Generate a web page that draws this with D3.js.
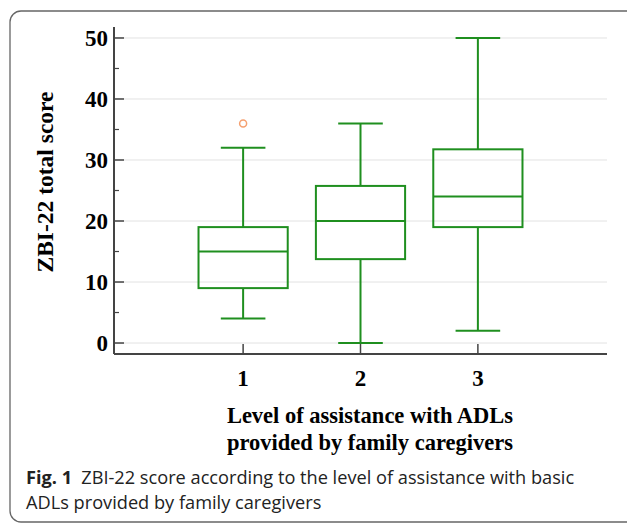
<!DOCTYPE html>
<html>
<head>
<meta charset="utf-8">
<script src="https://cdn.jsdelivr.net/npm/d3@7"></script>
<style>
  body { margin: 0; background: #fff; }
  svg { display: block; }
</style>
</head>
<body>
<div id="chart"></div>
<script>
// Data
const groups = [1, 2, 3];
const whiskerLow = [4, 0, 2];
const q1 = [9, 13.75, 19];
const medians = [15, 20, 24];
const q3 = [19, 25.75, 31.75];
const whiskerHigh = [32, 36, 50];
const outliers = [{ group: 1, value: 36 }];
const yTicks = [0, 10, 20, 30, 40, 50];
const yMinorTicks = [5, 15, 25, 35, 45];

const boxes = groups.map((g, i) => ({
  group: g, lo: whiskerLow[i], q1: q1[i], med: medians[i], q3: q3[i], hi: whiskerHigh[i]
}));

const width = 627;
const height = 525;
const green = "#1f8f1f";
const axisColor = "#444";
const serif = "'Liberation Serif', 'Times New Roman', serif";

const svg = d3.select("#chart")
  .append("svg")
    .attr("width", width)
    .attr("height", height);

// Frame round the figure
svg.append("rect")
  .attr("x", 10)
  .attr("y", 11)
  .attr("width", 640)
  .attr("height", 511)
  .attr("rx", 11)
  .attr("fill", "none")
  .attr("stroke", "#666")
  .attr("stroke-width", 1.3);

// Scales
const x = d3.scaleLinear().domain([-0.1, 4.1]).range([114, 607]);
const y = d3.scaleLinear().domain([-1.8, 51.8]).range([354, 27]);

// Gridlines
svg.append("g")
  .selectAll("line")
  .data(yTicks)
  .join("line")
    .attr("x1", x(-0.1))
    .attr("x2", x(4.1))
    .attr("y1", d => y(d))
    .attr("y2", d => y(d))
    .attr("stroke", "#e2e2e2")
    .attr("stroke-width", 1);

// Boxes
const box = svg.append("g")
  .selectAll("g")
  .data(boxes)
  .join("g")
    .attr("fill", "none")
    .attr("stroke", green)
    .attr("stroke-width", 2);

box.append("line")
  .attr("x1", d => x(d.group))
  .attr("x2", d => x(d.group))
  .attr("y1", d => y(d.hi))
  .attr("y2", d => y(d.q3));

box.append("line")
  .attr("x1", d => x(d.group))
  .attr("x2", d => x(d.group))
  .attr("y1", d => y(d.q1))
  .attr("y2", d => y(d.lo));

box.selectAll(".cap")
  .data(d => [d.hi, d.lo].map(v => ({ group: d.group, v })))
  .join("line")
    .attr("class", "cap")
    .attr("x1", d => x(d.group - 0.19))
    .attr("x2", d => x(d.group + 0.19))
    .attr("y1", d => y(d.v))
    .attr("y2", d => y(d.v));

box.append("rect")
  .attr("x", d => x(d.group - 0.38))
  .attr("width", d => x(d.group + 0.38) - x(d.group - 0.38))
  .attr("y", d => y(d.q3))
  .attr("height", d => y(d.q1) - y(d.q3));

box.append("line")
  .attr("x1", d => x(d.group - 0.38))
  .attr("x2", d => x(d.group + 0.38))
  .attr("y1", d => y(d.med))
  .attr("y2", d => y(d.med));

// Outliers
svg.append("g")
  .selectAll("circle")
  .data(outliers)
  .join("circle")
    .attr("cx", d => x(d.group))
    .attr("cy", d => y(d.value))
    .attr("r", 3.5)
    .attr("fill", "none")
    .attr("stroke", "#f5a070")
    .attr("stroke-width", 1.5);

// Y axis
const yAxis = svg.append("g")
  .attr("transform", `translate(${x(-0.1)},0)`);

yAxis.append("line")
  .attr("y1", y(51.8))
  .attr("y2", y(-1.8))
  .attr("stroke", axisColor)
  .attr("stroke-width", 2);

yAxis.selectAll(".major")
  .data(yTicks)
  .join("line")
    .attr("class", "major")
    .attr("x1", 0)
    .attr("x2", 10)
    .attr("y1", d => y(d))
    .attr("y2", d => y(d))
    .attr("stroke", axisColor)
    .attr("stroke-width", 1.5);

yAxis.selectAll(".minor")
  .data(yMinorTicks)
  .join("line")
    .attr("class", "minor")
    .attr("x1", 0)
    .attr("x2", 5)
    .attr("y1", d => y(d))
    .attr("y2", d => y(d))
    .attr("stroke", axisColor)
    .attr("stroke-width", 1.2);

yAxis.selectAll("text")
  .data(yTicks)
  .join("text")
    .attr("x", -6)
    .attr("y", d => y(d))
    .attr("dy", "0.35em")
    .attr("text-anchor", "end")
    .style("font-family", serif)
    .style("font-weight", "bold")
    .style("font-size", "23px")
    .text(d => d);

// X axis
const xAxis = svg.append("g")
  .attr("transform", `translate(0,${y(-1.8)})`);

xAxis.append("line")
  .attr("x1", x(-0.1))
  .attr("x2", x(4.1))
  .attr("stroke", axisColor)
  .attr("stroke-width", 2);

xAxis.selectAll(".tick")
  .data(groups)
  .join("line")
    .attr("class", "tick")
    .attr("x1", d => x(d))
    .attr("x2", d => x(d))
    .attr("y1", 0)
    .attr("y2", -10)
    .attr("stroke", axisColor)
    .attr("stroke-width", 1.5);

xAxis.selectAll("text")
  .data(groups)
  .join("text")
    .attr("x", d => x(d))
    .attr("y", 32)
    .attr("text-anchor", "middle")
    .style("font-family", serif)
    .style("font-weight", "bold")
    .style("font-size", "23px")
    .text(d => d);

// Axis titles
svg.append("text")
  .attr("transform", "translate(53,182) rotate(-90)")
  .attr("text-anchor", "middle")
  .style("font-family", serif)
  .style("font-weight", "bold")
  .style("font-size", "23.5px")
  .text("ZBI-22 total score");

const xTitle = svg.append("text")
  .attr("text-anchor", "middle")
  .style("font-family", serif)
  .style("font-weight", "bold")
  .style("font-size", "22.5px");

xTitle.append("tspan")
  .attr("x", 370)
  .attr("y", 423)
  .text("Level of assistance with ADLs");

xTitle.append("tspan")
  .attr("x", 370)
  .attr("y", 450)
  .text("provided by family caregivers");

// Caption
const caption = svg.append("text")
  .style("font-family", "'Open Sans', sans-serif")
  .style("font-size", "18.2px")
  .attr("fill", "#222");

const line1 = caption.append("tspan")
  .attr("x", 26)
  .attr("y", 484);
line1.append("tspan")
  .style("font-weight", "bold")
  .text("Fig. 1");
line1.append("tspan")
  .text("\u2002ZBI-22 score according to the level of assistance with basic");

caption.append("tspan")
  .attr("x", 26)
  .attr("y", 509)
  .text("ADLs provided by family caregivers");
</script>
</body>
</html>
